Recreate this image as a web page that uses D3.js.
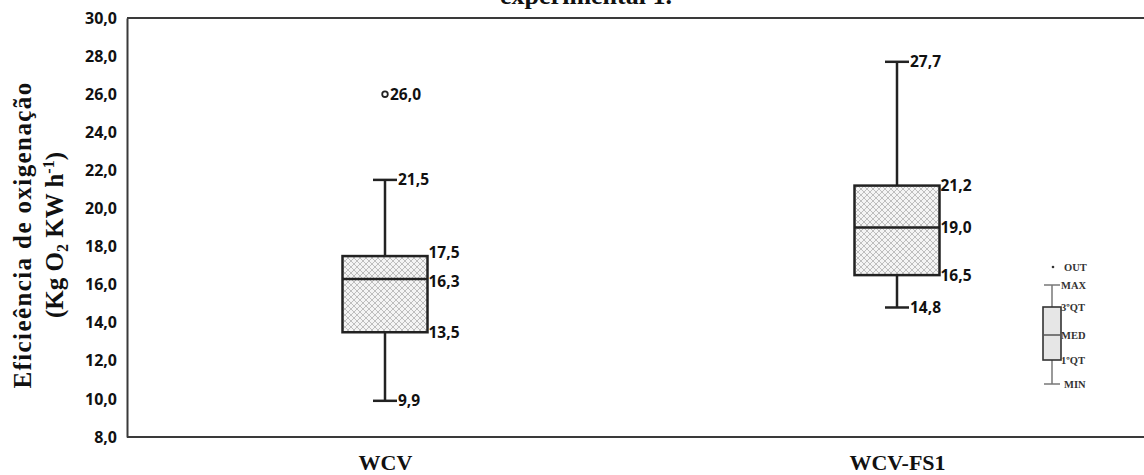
<!DOCTYPE html>
<html>
<head>
<meta charset="utf-8">
<script src="https://cdn.jsdelivr.net/npm/d3@7"></script>
<style>
  html, body { margin: 0; padding: 0; background: #fff; }
  svg { display: block; }
</style>
</head>
<body>
<svg id="chart" width="1144" height="475"></svg>
<script>
// Oxygenation efficiency by configuration (five-number summaries + outlier)
const categories = ["WCV", "WCV-FS1"];
const minValues    = [9.9, 14.8];
const q1Values     = [13.5, 16.5];
const medianValues = [16.3, 19.0];
const q3Values     = [17.5, 21.2];
const maxValues    = [21.5, 27.7];
const outliers     = [[26.0], []];
const yTicks = [8, 10, 12, 14, 16, 18, 20, 22, 24, 26, 28, 30];
const legendItems = ["OUT", "MAX", "3ºQT", "MED", "1ºQT", "MIN"];

const fmt = v => v.toFixed(1).replace(".", ",");

const svg = d3.select("#chart");
const margin = { left: 127, right: 0, top: 18, bottom: 38 };
const W = 1144, H = 475;

const x = d3.scalePoint().domain(categories).range([385, 897]);
const y = d3.scaleLinear().domain([8, 30]).range([437, 18]);

// hatch pattern for the boxes
const defs = svg.append("defs");
const pat = defs.append("pattern")
  .attr("id", "hatch").attr("patternUnits", "userSpaceOnUse")
  .attr("width", 6).attr("height", 6);
pat.append("rect").attr("width", 6).attr("height", 6).attr("fill", "#f4f4f4");
pat.append("path").attr("d", "M0,0 L6,6 M6,0 L0,6 M-3,3 L3,9 M3,-3 L9,3 M3,9 L9,3 M-3,3 L3,-3")
  .attr("stroke", "#b8b8b8").attr("stroke-width", 0.9).attr("fill", "none");

// caption running off the top edge
svg.append("text")
  .attr("x", 586).attr("y", 4)
  .attr("text-anchor", "middle")
  .attr("font-family", "'Liberation Serif', 'Times New Roman', serif")
  .attr("font-size", 26).attr("font-weight", "bold")
  .attr("fill", "#111")
  .text("experimental 1.");

// frame lines
const frame = svg.append("g").attr("stroke", "#3a3a3a").attr("stroke-width", 2);
frame.append("line").attr("x1", margin.left).attr("x2", W).attr("y1", y(30)).attr("y2", y(30));
frame.append("line").attr("x1", margin.left).attr("x2", W).attr("y1", y(8)).attr("y2", y(8));

// y axis
const yAxis = d3.axisLeft(y).tickValues(yTicks).tickFormat(fmt).tickSize(0).tickPadding(10);
const yg = svg.append("g").attr("transform", `translate(${margin.left},0)`).call(yAxis);
yg.select(".domain").attr("stroke", "#3a3a3a").attr("stroke-width", 2);
yg.selectAll("text")
  .attr("font-family", "'Open Sans', 'DejaVu Sans', sans-serif")
  .attr("font-size", 16).attr("font-weight", "bold").attr("fill", "#111");

// x axis category labels
const xAxis = d3.axisBottom(x).tickSize(0).tickPadding(17);
const xg = svg.append("g").attr("transform", `translate(0,${y(8)})`).call(xAxis);
xg.select(".domain").remove();
xg.selectAll("text")
  .attr("font-family", "'Liberation Serif', 'Times New Roman', serif")
  .attr("font-size", 22).attr("font-weight", "bold").attr("fill", "#111");

// y axis title
const yTitle = svg.append("text")
  .attr("transform", "translate(0,235) rotate(-90)")
  .attr("text-anchor", "middle")
  .attr("font-family", "'Liberation Serif', 'Times New Roman', serif")
  .attr("font-size", 25).attr("font-weight", "bold").attr("fill", "#111");
yTitle.append("tspan").attr("x", 0).attr("y", 31).attr("letter-spacing", 1.4).text("Eficieência de oxigenação");
const l2 = yTitle.append("tspan").attr("x", 0).attr("y", 63);
l2.append("tspan").text("(Kg O");
l2.append("tspan").attr("font-size", 16).attr("dy", 5).text("2");
l2.append("tspan").attr("dy", -5).text(" KW h");
l2.append("tspan").attr("font-size", 16).attr("dy", -9).text("-1");
l2.append("tspan").attr("dy", 9).text(")");

// boxes
const data = categories.map((c, i) => ({
  c, min: minValues[i], q1: q1Values[i], med: medianValues[i],
  q3: q3Values[i], max: maxValues[i], out: outliers[i]
}));

const boxW = 85, capW = 24;
const labelFont = "'Open Sans', 'DejaVu Sans', sans-serif";
const g = svg.append("g").attr("stroke", "#222").attr("stroke-width", 2.5).attr("fill", "none");

data.forEach(d => {
  const cx = x(d.c);
  // whiskers
  g.append("line").attr("x1", cx).attr("x2", cx).attr("y1", y(d.max)).attr("y2", y(d.q3));
  g.append("line").attr("x1", cx).attr("x2", cx).attr("y1", y(d.q1)).attr("y2", y(d.min));
  g.append("line").attr("x1", cx - capW / 2).attr("x2", cx + capW / 2).attr("y1", y(d.max)).attr("y2", y(d.max));
  g.append("line").attr("x1", cx - capW / 2).attr("x2", cx + capW / 2).attr("y1", y(d.min)).attr("y2", y(d.min));
  // box
  g.append("rect")
    .attr("x", cx - boxW / 2).attr("width", boxW)
    .attr("y", y(d.q3)).attr("height", y(d.q1) - y(d.q3))
    .attr("fill", "url(#hatch)");
  g.append("line").attr("x1", cx - boxW / 2).attr("x2", cx + boxW / 2).attr("y1", y(d.med)).attr("y2", y(d.med));
  // outliers
  d.out.forEach(o => {
    g.append("circle").attr("cx", cx).attr("cy", y(o)).attr("r", 2.8).attr("stroke-width", 1.8).attr("fill", "#fff");
    svg.append("text").attr("x", cx + 5).attr("y", y(o)).attr("dy", "0.35em")
      .attr("font-family", labelFont).attr("font-size", 15.5).attr("font-weight", "bold").attr("fill", "#111")
      .text(fmt(o));
  });
  // value labels
  [[d.max, cx + capW / 2 + 1], [d.min, cx + capW / 2 + 1],
   [d.q3, cx + boxW / 2 + 1], [d.med, cx + boxW / 2 + 1], [d.q1, cx + boxW / 2 + 1]]
    .forEach(([v, lx]) => {
      let dy = "0.35em";
      if (d.c === "WCV" && v === d.q3) dy = "0.1em";
      if (d.c === "WCV" && v === d.med) dy = "0.5em";
      svg.append("text").attr("x", lx).attr("y", y(v)).attr("dy", dy)
        .attr("font-family", labelFont).attr("font-size", 15.5).attr("font-weight", "bold").attr("fill", "#111")
        .text(fmt(v));
    });
});

// key explaining the box elements
const key = svg.append("g").attr("transform", "translate(1052,0)");
const kpos = { "OUT": 267, "MAX": 285, "3ºQT": 307, "MED": 335, "1ºQT": 360, "MIN": 384 };
const ks = key.append("g").attr("stroke", "#777").attr("stroke-width", 1.5).attr("fill", "none");
ks.append("line").attr("x1", 0).attr("x2", 0).attr("y1", kpos.MAX).attr("y2", kpos.MIN);
ks.append("line").attr("x1", -8).attr("x2", 8).attr("y1", kpos.MAX).attr("y2", kpos.MAX);
ks.append("line").attr("x1", -8).attr("x2", 8).attr("y1", kpos.MIN).attr("y2", kpos.MIN);
ks.append("rect").attr("x", -9).attr("width", 18).attr("y", kpos["3ºQT"]).attr("height", kpos["1ºQT"] - kpos["3ºQT"])
  .attr("fill", "#e6e6e6").attr("stroke", "#333").attr("stroke-width", 1.6);
ks.append("line").attr("x1", -9).attr("x2", 9).attr("y1", kpos.MED).attr("y2", kpos.MED).attr("stroke", "#555");
key.append("circle").attr("cx", 1).attr("cy", kpos.OUT).attr("r", 1.3).attr("fill", "#333");
legendItems.forEach(t => {
  key.append("text")
    .attr("x", t === "OUT" || t === "MIN" ? 12 : 9).attr("y", kpos[t]).attr("dy", "0.35em")
    .attr("font-family", "'Liberation Serif', 'Times New Roman', serif")
    .attr("font-size", 10.5).attr("font-weight", "bold").attr("fill", "#333")
    .text(t);
});
</script>
</body>
</html>
